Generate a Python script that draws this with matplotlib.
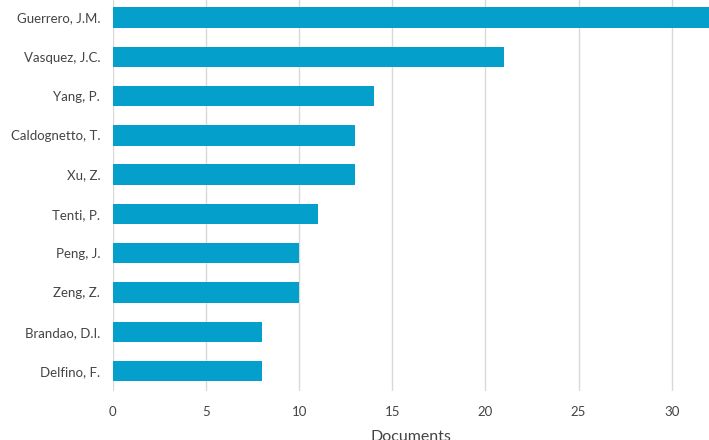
import matplotlib
matplotlib.use("Agg")
import matplotlib.pyplot as plt

authors = ["Guerrero, J.M.", "Vasquez, J.C.", "Yang, P.", "Caldognetto, T.", "Xu, Z.",
           "Tenti, P.", "Peng, J.", "Zeng, Z.", "Brandao, D.I.", "Delfino, F."]
documents = [32, 21, 14, 13, 13, 11, 10, 10, 8, 8]
xticks = [0, 5, 10, 15, 20, 25, 30]

plt.rcParams['font.family'] = ['Lato', 'DejaVu Sans']

fig = plt.figure(figsize=(7.09, 4.40), dpi=100)
ax = fig.add_axes([0.159, 0.112, 0.841, 0.893])
ypos = list(range(len(authors)))
ax.barh(ypos, documents, height=0.52, color='#049FCB', zorder=3)
ax.set_yticks(ypos)
ax.set_yticklabels(authors, fontsize=9.5, color='#444444')
ax.set_ylim(len(authors) - 0.5, -0.5)
ax.set_xlim(0, 32)
ax.set_xticks(xticks)
ax.set_xticklabels([str(t) for t in xticks], fontsize=9.5, color='#444444')
ax.grid(axis='x', color='#d9d9d9', linewidth=1, zorder=0)
for s in ax.spines.values():
    s.set_visible(False)
ax.tick_params(axis='y', length=0, pad=9)
ax.tick_params(axis='x', length=0, pad=11)
ax.set_xlabel('Documents', fontsize=11.5, color='#444444', labelpad=9)
fig.savefig('out.png', dpi=100)
